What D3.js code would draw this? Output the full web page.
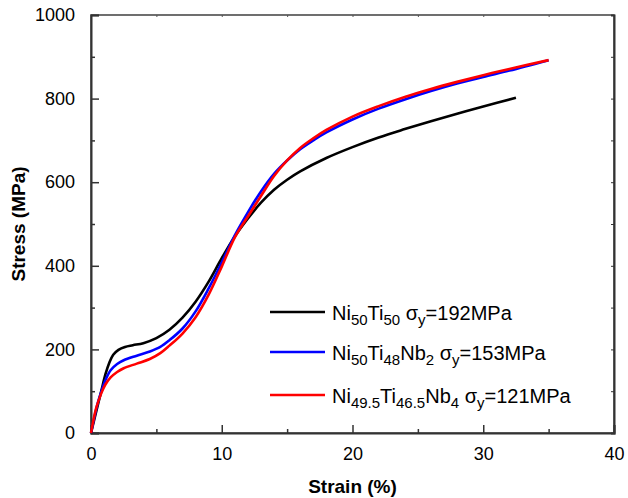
<!DOCTYPE html>
<html>
<head>
<meta charset="utf-8">
<script src="https://cdn.jsdelivr.net/npm/d3@7"></script>
<style>
  body { margin: 0; background: #fff; }
  svg text { font-family: "Liberation Sans", Arial, sans-serif; fill: #000; }
</style>
</head>
<body>
<svg width="628" height="498"></svg>
<script>
// Stress-strain curves (strain %, stress MPa)
const niTi = [[0,0],[0.5,64],[0.8,102],[1.1,140],[1.4,168],[1.7,187],[2.1,199],[2.6,206],[3.2,210],[4,215],[5,227],[6,247],[7,276],[8,314],[9,362],[10,418],[11,470],[12,513],[13,551],[14,582],[15,606],[16,626],[18,658],[20,684],[22,707],[24,727],[26,746],[28,764],[30,781],[32.5,802]];
const niTiNb2 = [[0,0],[0.5,70],[0.8,100],[1.1,126],[1.5,150],[2,165],[2.5,174],[3.5,185],[4.5,195],[5.3,206],[6,222],[7,250],[8,291],[9,346],[10,408],[11,473],[12,528],[13,578],[14,620],[15,652],[16,679],[17,700],[18,719],[20,750],[22,776],[24,798],[26,818],[28,836],[30,852],[32,867],[35,892]];
const niTiNb4 = [[0,0],[0.4,60],[0.8,96],[1.1,116],[1.5,133],[2,146],[2.5,155],[3.5,166],[4.5,177],[5.3,191],[6,209],[7,238],[8,277],[9,331],[10,398],[11,468],[12,518],[13,567],[14,615],[15,652],[16,682],[17,705],[18,725],[20,757],[22,782],[24,804],[26,823],[28,840],[30,856],[32,871],[35,892]];

const seriesNames = ["NiTi", "NiTiNb2", "NiTiNb4"];
const seriesData = [niTi, niTiNb2, niTiNb4];
const seriesColors = ["#000000", "#0000ff", "#ff0000"];
// legend label pieces: [text, isSubscript]
const legendLabels = [
  [["Ni",0],["50",1],["Ti",0],["50",1],[" σ",0],["y",1],["=192MPa",0]],
  [["Ni",0],["50",1],["Ti",0],["48",1],["Nb",0],["2",1],[" σ",0],["y",1],["=153MPa",0]],
  [["Ni",0],["49.5",1],["Ti",0],["46.5",1],["Nb",0],["4",1],[" σ",0],["y",1],["=121MPa",0]]
];

const xTicks = [0, 10, 20, 30, 40];
const yTicks = [0, 200, 400, 600, 800, 1000];

const svg = d3.select("svg");
const pLeft = 91, pRight = 614, pTop = 15, pBottom = 433;

const x = d3.scaleLinear().domain([0, 40]).range([pLeft, pRight]);
const y = d3.scaleLinear().domain([0, 1000]).range([pBottom, pTop]);

// frame
svg.append("rect")
  .attr("x", pLeft).attr("y", pTop)
  .attr("width", pRight - pLeft).attr("height", pBottom - pTop)
  .attr("fill", "none").attr("stroke", "#222").attr("stroke-width", 1.3);

// left axis: major + minor ticks inward
const yAxis = svg.append("g").attr("transform", `translate(${pLeft},0)`);
yAxis.call(d3.axisLeft(y).tickValues(yTicks).tickFormat(d3.format("d")).tickSize(-8).tickPadding(16))
  .call(g => g.select(".domain").attr("stroke", "#333").attr("stroke-width", 2));
yAxis.selectAll(".tick line").attr("stroke", "#333").attr("stroke-width", 1.5);
yAxis.selectAll("text").style("font-size", "18px");
svg.append("g").attr("transform", `translate(${pLeft},0)`)
  .call(d3.axisLeft(y).tickValues(d3.range(100, 1000, 200)).tickSize(-4).tickFormat(""))
  .call(g => g.select(".domain").remove())
  .selectAll("line").attr("stroke", "#333").attr("stroke-width", 1.5);

// bottom axis
const xAxis = svg.append("g").attr("transform", `translate(0,${pBottom})`);
xAxis.call(d3.axisBottom(x).tickValues(xTicks).tickFormat(d3.format("d")).tickSize(-8).tickPadding(14))
  .call(g => g.select(".domain").attr("stroke", "#333").attr("stroke-width", 2));
xAxis.selectAll(".tick line").attr("stroke", "#333").attr("stroke-width", 1.5);
xAxis.selectAll("text").style("font-size", "18px");
svg.append("g").attr("transform", `translate(0,${pBottom})`)
  .call(d3.axisBottom(x).tickValues(d3.range(5, 40, 10)).tickSize(-4).tickFormat(""))
  .call(g => g.select(".domain").remove())
  .selectAll("line").attr("stroke", "#333").attr("stroke-width", 1.5);

// right and top small inward ticks
svg.append("g").attr("transform", `translate(${pRight},0)`)
  .call(d3.axisRight(y).tickValues(d3.range(100, 1000, 100)).tickSize(-3).tickFormat(""))
  .call(g => g.select(".domain").attr("stroke", "#333").attr("stroke-width", 2))
  .selectAll("line").attr("stroke", "#333");
svg.append("g").attr("transform", `translate(0,${pTop})`)
  .call(d3.axisTop(x).tickValues(d3.range(5, 40, 5)).tickSize(-2).tickFormat(""))
  .call(g => g.select(".domain").remove())
  .selectAll("line").attr("stroke", "#555");

// curves
const line = d3.line()
  .x(d => x(d[0]))
  .y(d => y(d[1]))
  .curve(d3.curveCatmullRom.alpha(0.5));

seriesData.forEach((data, i) => {
  svg.append("path")
    .datum(data)
    .attr("class", "curve-" + seriesNames[i])
    .attr("fill", "none")
    .attr("stroke", seriesColors[i])
    .attr("stroke-width", 2.6)
    .attr("stroke-linejoin", "round")
    .attr("d", line);
});

// axis titles
svg.append("text")
  .attr("x", (pLeft + pRight) / 2)
  .attr("y", 493)
  .attr("text-anchor", "middle")
  .style("font-size", "19px")
  .style("font-weight", "bold")
  .text("Strain (%)");

svg.append("text")
  .attr("transform", `translate(25,${(pTop + pBottom) / 2}) rotate(-90)`)
  .attr("text-anchor", "middle")
  .style("font-size", "19px")
  .style("font-weight", "bold")
  .text("Stress (MPa)");

// legend
const legendRows = [312, 352, 395];
legendLabels.forEach((parts, i) => {
  const ly = legendRows[i];
  svg.append("line")
    .attr("x1", 270).attr("x2", 325)
    .attr("y1", ly).attr("y2", ly)
    .attr("stroke", seriesColors[i])
    .attr("stroke-width", 2.6);
  const t = svg.append("text")
    .attr("x", 332)
    .attr("y", ly + 8)
    .style("font-size", "20px");
  let sub = false;
  parts.forEach(([s, isSub]) => {
    const ts = t.append("tspan").text(s);
    if (isSub && !sub) ts.attr("dy", 5).style("font-size", "15px");
    else if (isSub) ts.style("font-size", "15px");
    else if (!isSub && sub) ts.attr("dy", -5);
    sub = !!isSub;
  });
});
</script>
</body>
</html>
